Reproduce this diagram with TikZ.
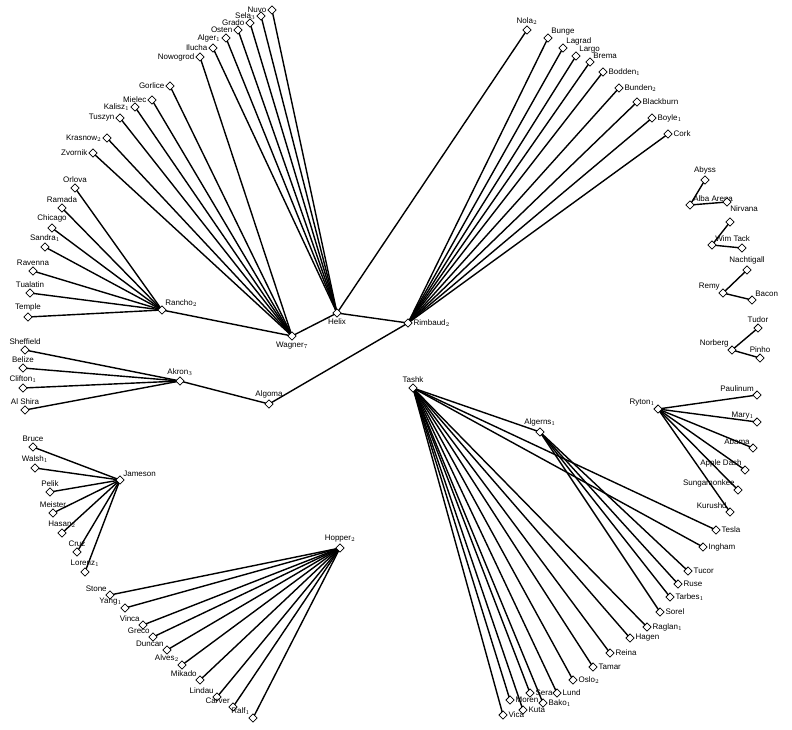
\documentclass[tikz,border=0pt]{standalone}
\usepackage{fontspec}
\setmainfont{Liberation Sans}
\usetikzlibrary{shapes.geometric,backgrounds}
\tikzset{
  leaf/.style={diamond,draw,fill=white,line width=0.8pt,inner sep=0pt,minimum size=8.5pt},
  lbl/.style={font=\fontsize{8}{9}\selectfont,inner sep=0.8pt},
  link/.style={line width=1.4pt},
}
\begin{document}
\begin{tikzpicture}[x=1pt,y=-1pt]
\useasboundingbox (0,0) rectangle (792,729);

% inner nodes
\node[leaf,label={[lbl]below:Wagner$_7$}] (wag) at (292,336) {};
\node[leaf,label={[lbl]below:Helix}] (hel) at (337,313) {};
\node[leaf,label={[lbl]right:Rimbaud$_2$}] (rim) at (408,323) {};
\node[leaf,label={[lbl]above right:Rancho$_2$}] (ran) at (162,310) {};
\node[leaf,label={[lbl]above:Akron$_3$}] (akr) at (180,381) {};
\node[leaf,label={[lbl]above:Algoma}] (alg) at (269,404) {};
\node[leaf,label={[lbl]above:Tashk}] (tas) at (413,388) {};
\node[leaf,label={[lbl]above:Algerns$_1$}] (age) at (540,432) {};
\node[leaf,label={[lbl]above left:Ryton$_1$}] (ryt) at (658,409) {};
\node[leaf,label={[lbl]above right:Jameson}] (jam) at (120,480) {};
\node[leaf,label={[lbl]above:Hopper$_2$}] (hop) at (340,548) {};

% leaves
\foreach \x/\y/\t [count=\i] in {93/153/Zvornik,107/138/Krasnow$_2$,120/118/Tuszyn,
  135/107/Kalisz$_1$,152/100/Mielec,170/86/Gorlice,200/57/Nowogrod}
  \node[leaf,label={[lbl]left:\t}] (wag\i) at (\x,\y) {};
\foreach \x/\y/\t [count=\i] in {213/48/Ilucha,226/38/Alger$_1$,238/30/Osten,
  250/23/Grado,261/16/Sela$_3$,272/10/Nuvo}
  \node[leaf,label={[lbl]left:\t}] (hel\i) at (\x,\y) {};
\node[leaf,label={[lbl]above:Nola$_2$}] (hel7) at (527,30) {};
\foreach \x/\y/\t [count=\i] in {548/38/Bunge,563/48/Lagrad,576/56/Largo,590/62/Brema}
  \node[leaf,label={[lbl]above right:\t}] (rim\i) at (\x,\y) {};
\foreach \x/\y/\t [count=\i from 5] in {603/72/Bodden$_1$,619/88/Bunden$_2$,
  637/102/Blackburn,652/118/Boyle$_1$,668/134/Cork}
  \node[leaf,label={[lbl]right:\t}] (rim\i) at (\x,\y) {};
\foreach \x/\y/\t [count=\i] in {75/188/Orlova,62/208/Ramada,52/228/Chicago,
  45/247/Sandra$_1$,33/271/Ravenna,30/293/Tualatin,28/317/Temple}
  \node[leaf,label={[lbl]above:\t}] (ran\i) at (\x,\y) {};
\foreach \x/\y/\t [count=\i] in {25/350/Sheffield,23/368/Belize,23/388/Clifton$_1$,25/410/Al Shira}
  \node[leaf,label={[lbl]above:\t}] (akr\i) at (\x,\y) {};
\foreach \x/\y/\t [count=\i] in {503/715/Vica,510/700/Moren,523/710/Kuta,530/693/Sera,
  543/703/Bako$_1$,557/693/Lund,573/680/Oslo$_2$,593/667/Tamar,610/653/Reina,
  630/638/Hagen,647/627/Raglan$_1$,703/547/Ingham,716/530/Tesla}
  \node[leaf,label={[lbl]right:\t}] (tas\i) at (\x,\y) {};
\foreach \x/\y/\t [count=\i] in {660/612/Sorel,670/597/Tarbes$_1$,678/584/Ruse,688/571/Tucor}
  \node[leaf,label={[lbl]right:\t}] (age\i) at (\x,\y) {};
\foreach \x/\y/\t [count=\i] in {757/395/Paulinum,757/422/Mary$_1$,753/448/Abama,
  745/470/Apple Dash,738/490/Sungamonkee,730/512/Kurushd}
  \node[leaf,label={[lbl]above left:\t}] (ryt\i) at (\x,\y) {};
\foreach \x/\y/\t [count=\i] in {33/447/Bruce,35/468/Walsh$_1$,50/492/Pelik,53/513/Meister,
  62/533/Hasan$_2$,77/552/Cruz,85/572/Lorenz$_1$}
  \node[leaf,label={[lbl]above:\t}] (jam\i) at (\x,\y) {};
\foreach \x/\y/\t [count=\i] in {110/595/Stone,125/608/Yang$_1$,143/625/Vinca,153/637/Greco,
  167/650/Duncan,182/665/Alves$_2$,200/680/Mikado,217/697/Lindau,233/707/Carver,253/718/Ralf$_1$}
  \node[leaf,label={[lbl]above left:\t}] (hop\i) at (\x,\y) {};

% small trees on the right
\node[leaf,label={[lbl]above right:Alba Arena}] (aba) at (690,205) {};
\node[leaf,label={[lbl]above:Abyss}] (aba1) at (705,180) {};
\node[leaf,label={[lbl]below right:Nirvana}] (aba2) at (727,202) {};
\node[leaf,label={[lbl]above right:Wim Tack}] (wim) at (712,245) {};
\node[leaf] (wim1) at (730,222) {};
\node[leaf] (wim2) at (742,248) {};
\node[leaf,label={[lbl]above left:Remy}] (rem) at (723,293) {};
\node[leaf,label={[lbl]above:Nachtigall}] (rem1) at (747,270) {};
\node[leaf,label={[lbl]above right:Bacon}] (rem2) at (752,300) {};
\node[leaf,label={[lbl]above left:Norberg}] (nor) at (732,350) {};
\node[leaf,label={[lbl]above:Tudor}] (nor1) at (758,328) {};
\node[leaf,label={[lbl]above:Pinho}] (nor2) at (760,358) {};

% links
\begin{scope}[on background layer]
\foreach \i in {1,...,7} \draw[link] (wag\i.center) -- (wag.center);
\foreach \i in {1,...,7} \draw[link] (hel\i.center) -- (hel.center);
\foreach \i in {1,...,9} \draw[link] (rim\i.center) -- (rim.center);
\foreach \i in {1,...,7} \draw[link] (ran\i.center) -- (ran.center);
\foreach \i in {1,...,4} \draw[link] (akr\i.center) -- (akr.center);
\foreach \i in {1,...,13} \draw[link] (tas\i.center) -- (tas.center);
\foreach \i in {1,...,4} \draw[link] (age\i.center) -- (age.center);
\foreach \i in {1,...,6} \draw[link] (ryt\i.center) -- (ryt.center);
\foreach \i in {1,...,7} \draw[link] (jam\i.center) -- (jam.center);
\foreach \i in {1,...,10} \draw[link] (hop\i.center) -- (hop.center);
\draw[link] (ran.center) -- (wag.center) -- (hel.center) -- (rim.center)
  -- (alg.center) -- (akr.center);
\draw[link] (tas.center) -- (age.center);
\foreach \n in {aba,wim,rem,nor}
  \draw[link] (\n1.center) -- (\n.center) -- (\n2.center);
\end{scope}
\end{tikzpicture}
\end{document}
